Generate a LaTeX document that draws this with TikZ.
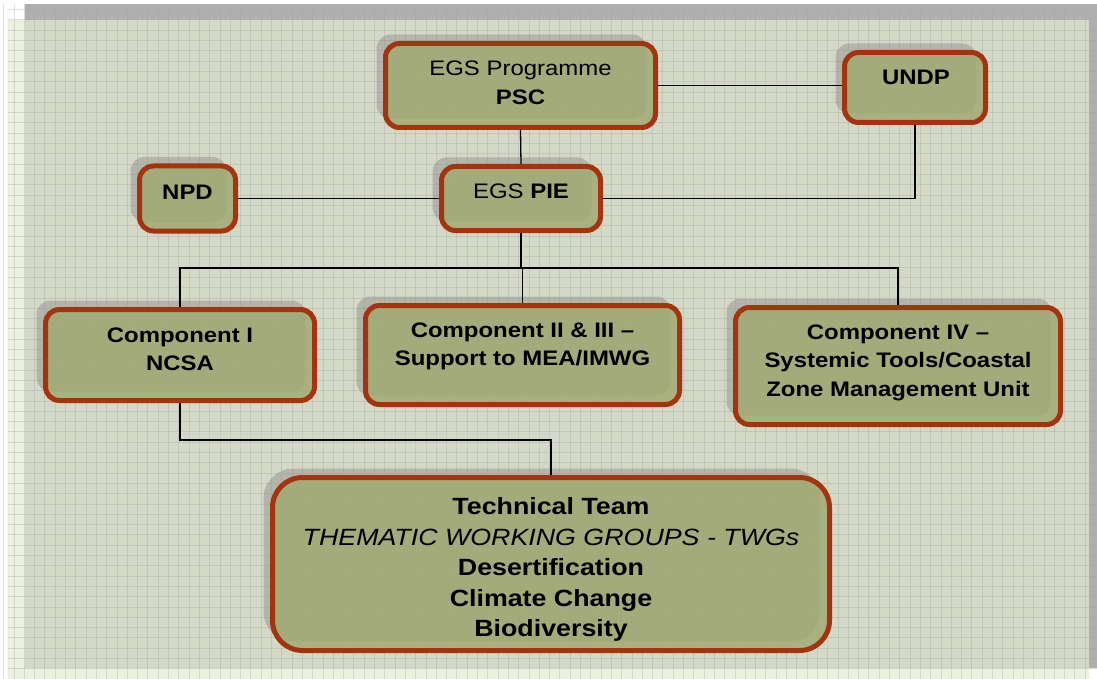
\documentclass[tikz,border=0pt]{standalone}
\usepackage{fontspec}
\setmainfont{Liberation Sans}[FakeStretch=1.14]
\usetikzlibrary{shadows}
\definecolor{boxred}{RGB}{164,52,14}
\definecolor{boxfill}{RGB}{160,170,112}
\definecolor{panel}{RGB}{228,234,208}
\definecolor{shadowgrey}{RGB}{175,175,175}
\tikzset{
  box/.style={draw=boxred, line width=5pt, rounded corners=14pt, fill=boxfill,
    fill opacity=0.82, inner sep=0pt,
    drop shadow={shadow xshift=-9pt, shadow yshift=9pt, fill=black!45, opacity=0.45}},
  txt/.style={align=center, inner sep=0pt, font=\fontsize{21}{28.5}\selectfont},
  btxt/.style={txt, font=\fontsize{21}{28.5}\selectfont\bfseries},
  link/.style={draw=black, line width=1.3pt},
  gridline/.style={draw=gray!70, line width=0.7pt, opacity=0.35},
}
\begin{document}
\begin{tikzpicture}[x=1pt,y=-1pt]
\useasboundingbox (0,0) rectangle (1097,679);
% background
\fill[shadowgrey] (25,4) rectangle (1097,668);
\fill[panel, opacity=0.7] (8,20) rectangle (1089,679);
\foreach \i in {0,...,105} \draw[gridline] ({3.6+10.3*\i},4) -- ({3.6+10.3*\i},679);
\foreach \j in {0,...,65} \draw[gridline] (8,{9.5+10.3*\j}) -- (1097,{9.5+10.3*\j});
% boxes
\node[box, minimum width=270pt, minimum height=84pt] (psc) at (520.5,85.5) {};
\node[box, minimum width=141pt, minimum height=70pt] (undp) at (915,87.5) {};
\node[box, minimum width=96pt, minimum height=65pt] (npd) at (187.5,198.5) {};
\node[box, minimum width=159pt, minimum height=64pt] (pie) at (521,198.5) {};
\node[box, minimum width=269pt, minimum height=91pt] (c1) at (180,355) {};
\node[box, minimum width=314pt, minimum height=99pt] (c2) at (522.5,355) {};
\node[box, minimum width=325pt, minimum height=117pt] (c4) at (898,366) {};
\node[box, minimum width=557pt, minimum height=173pt, rounded corners=30pt] (tech) at (551,564) {};
% texts
\node[txt] (psct) at (520.5,83) {EGS Programme\\\textbf{PSC}};
\node[btxt] (undpt) at (916,77.5) {UNDP};
\node[btxt] (npdt) at (187.5,192) {NPD};
\node[txt] (piet) at (521,191) {EGS \textbf{PIE}};
\node[btxt] (c1t) at (180,349.5) {Component I\\NCSA};
\node[btxt] (c2t) at (522.5,346.5) {Component II \& III --\\Support to MEA/IMWG};
\node[btxt] (c4t) at (898,362.5) {Component IV --\\Systemic Tools/Coastal\\Zone Management Unit};
\node[txt, font=\fontsize{23.5}{30.5}\selectfont] (techt) at (551,569.5)
  {\textbf{Technical Team}\\\textit{THEMATIC WORKING GROUPS - TWGs}\\\textbf{Desertification}\\\textbf{Climate Change}\\\textbf{Biodiversity}};
% connectors
\coordinate (bus) at (521,268);
\coordinate (j1) at (551,440);
\draw[link] (psc.south) -- (pie.north);
\draw[link] (psc.east) -- (psc.east -| undp.west);
\draw[link] (undp.south) |- (pie.east);
\draw[link] (npd.east) -- (pie.west);
\draw[link] (pie.south) -- (bus);
\draw[link] (c1.north) |- (bus) -| (c4.north);
\draw[link] (bus) -- (bus -| c2.north) -- (c2.north);
\draw[link] (c1.south) |- (j1) -- (j1 |- tech.north);
\end{tikzpicture}
\end{document}
